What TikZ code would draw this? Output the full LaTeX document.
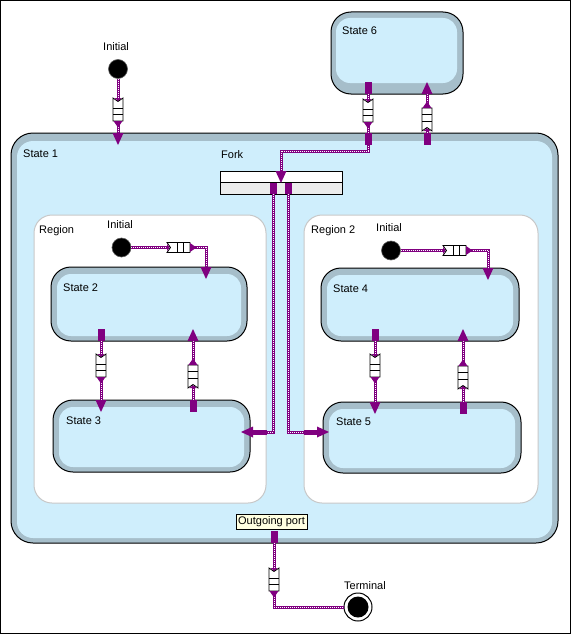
\documentclass[tikz,border=0pt]{standalone}
\usepackage{fontspec}
\setmainfont{Liberation Sans}
\definecolor{band}{RGB}{166,190,202}
\definecolor{stfill}{RGB}{207,238,252}
\definecolor{conncol}{RGB}{128,0,128}
\definecolor{regborder}{RGB}{200,200,200}
\definecolor{forkgray}{RGB}{236,236,236}
\definecolor{tipyellow}{RGB}{255,255,225}
\newcommand\stinner[6]{\fill[stfill, rounded corners=#6] ([shift={(#2,#3)}]#1.north west) rectangle ([shift={(-#4,-#5)}]#1.south east);}
\begin{document}
\begin{tikzpicture}[x=1pt,y=-1pt,
  statebox/.style={draw=black, line width=1pt, fill=band, rounded corners=#1, inner sep=0pt, outer sep=0pt},
  statebox/.default=20pt,
  regionbox/.style={draw=regborder, fill=white, line width=1pt, rounded corners=18pt, inner sep=0pt, outer sep=0pt},
  forkbar/.style={draw=black, line width=1pt, fill=forkgray, inner sep=0pt, outer sep=0pt, minimum width=122pt, minimum height=23pt},
  initdot/.style={circle, fill=black, draw=black!65, line width=0.6pt, minimum size=19pt, inner sep=0pt, outer sep=0pt},
  termdot/.style={circle, fill=white, draw=black, line width=1pt, minimum size=28pt, inner sep=0pt, outer sep=0pt},
  conn/.style={draw=conncol, line width=3pt, postaction={draw=white, line width=1pt, dash pattern=on 1pt off 1pt}},
  portsq/.style={fill=conncol},
  lbl/.style={anchor=base west, inner sep=0pt, font=\fontsize{11}{13}\selectfont},
  portlabel/.style={draw=black, fill=tipyellow, line width=0.6pt, inner xsep=2pt, inner ysep=0pt, minimum height=15pt, font=\fontsize{11}{13}\selectfont},
  queue/.pic={
    \filldraw[fill=white, draw=black, line width=0.8pt] (0,-5) -- (3.5,0) -- (0,5) -- (23,5) -- (23,-5) -- cycle;
    \fill[conncol] (0,-3.6) -- (2.6,0) -- (0,3.6) -- cycle;
    \draw[black, line width=0.8pt] (10,-5) -- (10,5) (16.5,-5) -- (16.5,5);
    \fill[conncol] (23,-4.5) -- (29.5,0) -- (23,4.5) -- cycle;
  },
  tip/.pic={\fill[conncol] (0,-5.5) -- (12,0) -- (0,5.5) -- cycle;}
]
\useasboundingbox (0,0) rectangle (571,634);
\fill[white] (0,0) rectangle (571,634);
\draw[black, line width=1pt] (0.5,0.5) rectangle (570.5,633.5);

% states and regions
\node[statebox=22pt, minimum width=547pt, minimum height=410pt] (s1) at (284.5,338) {};
\stinner{s1}{6}{8}{6}{5}{16pt}
\node[statebox=20pt, minimum width=132pt, minimum height=82pt] (s6) at (397,53) {};
\stinner{s6}{5}{6}{6}{11}{14pt}
\node[regionbox, minimum width=232pt, minimum height=288pt] (r1) at (150,359) {};
\node[regionbox, minimum width=234pt, minimum height=288pt] (r2) at (421,359) {};
\node[statebox, minimum width=196pt, minimum height=74pt] (s2) at (149,304) {};
\stinner{s2}{6}{7}{6}{5}{14pt}
\node[statebox, minimum width=197pt, minimum height=72pt] (s3) at (151.5,436) {};
\stinner{s3}{6}{7}{6}{5}{14pt}
\node[statebox, minimum width=198pt, minimum height=73pt] (s4) at (420,304.5) {};
\stinner{s4}{6}{7}{6}{5}{14pt}
\node[statebox, minimum width=198pt, minimum height=71pt] (s5) at (422,437.5) {};
\stinner{s5}{6}{7}{6}{5}{14pt}

% fork
\node[forkbar] (fork) at (281,182.5) {};
\fill[white] ([shift={(0.5,0.5)}]fork.north west) rectangle (fork.east);
\draw[black, line width=1pt] (fork.north west) rectangle (fork.south east);
\draw[black, line width=1pt] (fork.west) -- (fork.east);

% pseudo states
\node[initdot] (i0) at (118,69) {};
\node[initdot] (ri) at (121.5,247.5) {};
\node[initdot] (r2i) at (391,250.5) {};
\node[termdot] (term) at (358,607) {};
\fill[black] (term.center) circle (10.5pt);

% connectors
\draw[conn] (i0.south) -- (118,0 |- s1.north);
\draw[conn] (368,0 |- s6.south) |- (fork.north |- 0,151) -- (fork.north);
\draw[conn] (427,0 |- s1.north) -- (427,0 |- s6.south);
\draw[conn] (273,0 |- fork.south) |- (s3.east |- 0,432);
\draw[conn] (288,0 |- fork.south) |- (s5.west |- 0,432);
\draw[conn] (ri.east) -| (206,0 |- s2.north);
\draw[conn] (r2i.east) -| (488,0 |- s4.north);
\draw[conn] (101,0 |- s2.south) -- (101,0 |- s3.north);
\draw[conn] (193,0 |- s3.north) -- (193,0 |- s2.south);
\draw[conn] (375,0 |- s4.south) -- (375,0 |- s5.north);
\draw[conn] (463,0 |- s5.north) -- (463,0 |- s4.south);
\draw[conn] (274,0 |- s1.south) |- (term.west);

% ports
\fill[portsq] (364.5,82) rectangle (371.5,94);
\fill[portsq] (364.5,133) rectangle (371.5,145);
\fill[portsq] (423.5,133) rectangle (430.5,145);
\fill[portsq] (269.5,183) rectangle (276.5,194);
\fill[portsq] (284.5,183) rectangle (291.5,194);
\fill[portsq] (253,429.5) rectangle (267,434.5);
\fill[portsq] (304,429.5) rectangle (317,434.5);
\fill[portsq] (97.5,329) rectangle (104.5,341);
\fill[portsq] (189.5,400) rectangle (196.5,412);
\fill[portsq] (371.5,329) rectangle (378.5,341);
\fill[portsq] (459.5,402) rectangle (466.5,414);
\fill[portsq] (270.5,531) rectangle (277.5,543);

% queues
\pic[rotate=-90] at (118,98) {queue};
\pic[rotate=-90] at (368,99) {queue};
\pic[rotate=90] at (427,131) {queue};
\pic at (167,247.5) {queue};
\pic at (443,250.5) {queue};
\pic[rotate=-90] at (101,354) {queue};
\pic[rotate=90] at (193,388) {queue};
\pic[rotate=-90] at (375,354) {queue};
\pic[rotate=90] at (463,389) {queue};
\pic[rotate=-90] at (274,568) {queue};

% arrow tips
\pic[rotate=-90] at (118,0 |- s1.north) {tip};
\pic[rotate=-90] at (fork.north) {tip};
\pic[rotate=90] at (427,0 |- s6.south) {tip};
\pic[rotate=180] at (253,432) {tip};
\pic at (317,432) {tip};
\pic[rotate=-90] at (206,0 |- s2.north) {tip};
\pic[rotate=-90] at (488,0 |- s4.north) {tip};
\pic[rotate=-90] at (101,0 |- s3.north) {tip};
\pic[rotate=90] at (193,0 |- s2.south) {tip};
\pic[rotate=-90] at (375,0 |- s5.north) {tip};
\pic[rotate=90] at (463,0 |- s4.south) {tip};

% labels
\node[lbl] (t0) at (103,51) {Initial};
\node[lbl] (t6) at (342,35) {State 6};
\node[lbl] (t1) at (23,157) {State 1};
\node[lbl] (tf) at (221,158) {Fork};
\node[lbl] (tr1) at (39,233) {Region};
\node[lbl] (tri) at (107,228) {Initial};
\node[lbl] (t2) at (63,291) {State 2};
\node[lbl] (tr2) at (311,233) {Region 2};
\node[lbl] (tr2i) at (376,231) {Initial};
\node[lbl] (t4) at (333,292) {State 4};
\node[lbl] (t3) at (66,424) {State 3};
\node[lbl] (t5) at (336,425) {State 5};
\node[lbl] (tt) at (344,589) {Terminal};
\node[portlabel] (olabel) at (271.5,521.5) {Outgoing port};
\end{tikzpicture}
\end{document}
